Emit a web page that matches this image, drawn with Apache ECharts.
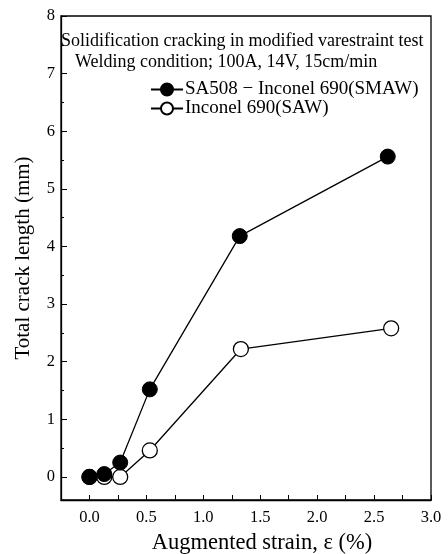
<!DOCTYPE html>
<html>
<head>
<meta charset="utf-8">
<script src="https://cdn.jsdelivr.net/npm/echarts@6/dist/echarts.min.js"></script>
<style>
  html, body { margin: 0; padding: 0; background: #fff; }
  #echarts { width: 448px; height: 554px; }
</style>
</head>
<body>
<div id="echarts"></div>
<script>
// 读图得到的数据
var smawStrain = [0.0, 0.13, 0.27, 0.53, 1.32, 2.62];
var smawCrack  = [0.0, 0.05, 0.25, 1.52, 4.18, 5.56];
var sawStrain  = [0.0, 0.13, 0.27, 0.53, 1.33, 2.65];
var sawCrack   = [0.0, 0.0, 0.0, 0.46, 2.22, 2.58];
var yTicks = [0, 1, 2, 3, 4, 5, 6, 7, 8];
var yMinorTicks = [0.5, 1.5, 2.5, 3.5, 4.5, 5.5, 6.5, 7.5];

var pairs = function (xs, ys) {
    return xs.map(function (x, i) { return [x, ys[i]]; });
};

var serif = 'Liberation Serif';
var myChart = echarts.init(document.getElementById('echarts'));
var option = {
    animation: false,
    title: [
        { text: 'Solidification cracking in modified varestraint test', left: 61, top: 32, padding: 0,
          textStyle: { fontFamily: serif, fontSize: 18, fontWeight: 'normal', color: '#000' } },
        { text: 'Welding condition; 100A, 14V, 15cm/min', left: 75, top: 53, padding: 0,
          textStyle: { fontFamily: serif, fontSize: 18, fontWeight: 'normal', color: '#000' } }
    ],
    legend: {
        orient: 'vertical',
        left: 150,
        top: 80,
        padding: 0,
        itemWidth: 32,
        itemHeight: 15,
        itemGap: 0,
        data: ['SA508 \u2212 Inconel 690(SMAW)', 'Inconel 690(SAW)'],
        textStyle: { fontFamily: serif, fontSize: 19, lineHeight: 19, color: '#000', padding: [0, 0, 0, -3] }
    },
    grid: { left: 61, right: 17, top: 16, bottom: 54, outerBoundsMode: 'none',
            show: true, borderColor: '#000', borderWidth: 1.3 },
    xAxis: {
        type: 'value',
        min: -0.25,
        max: 3.0,
        interval: 0.25,
        name: 'Augmented strain, \u03b5 (%)',
        nameLocation: 'middle',
        nameGap: 32,
        nameTextStyle: { fontFamily: serif, fontSize: 22.5, color: '#000', padding: [0, 0, 0, 32] },
        axisLine: { onZero: false, lineStyle: { color: '#000', width: 1.3 } },
        axisTick: { inside: true, length: 5, lineStyle: { color: '#000' } },
        axisLabel: {
            margin: 9, fontFamily: serif, fontSize: 16.5, color: '#000',
            formatter: function (v) {
                var r = Math.round(v * 100) / 100;
                if (r < 0 || Math.abs(r * 2 - Math.round(r * 2)) > 1e-6) return '';
                return r.toFixed(1);
            }
        },
        splitLine: { show: false }
    },
    yAxis: [{
        type: 'value',
        min: -0.4,
        max: 8,
        name: 'Total crack length (mm)',
        nameLocation: 'middle',
        nameGap: 27,
        nameTextStyle: { fontFamily: serif, fontSize: 21, color: '#000' },
        axisLine: { onZero: false, lineStyle: { color: '#000', width: 1.3 } },
        axisTick: { inside: true, length: 6, customValues: yTicks, lineStyle: { color: '#000' } },
        axisLabel: { margin: 6, fontFamily: serif, fontSize: 16.5, color: '#000', customValues: yTicks },
        splitLine: { show: false }
    }, {
        type: 'value',
        min: -0.4,
        max: 8,
        position: 'left',
        axisLine: { show: false, onZero: false },
        axisTick: { inside: true, length: 3, customValues: yMinorTicks, lineStyle: { color: '#000' } },
        axisLabel: { show: false },
        splitLine: { show: false }
    }],
    series: [
        {
            name: 'Inconel 690(SAW)',
            type: 'line',
            data: pairs(sawStrain, sawCrack),
            symbol: 'circle',
            symbolSize: 15,
            lineStyle: { color: '#000', width: 1.3 },
            itemStyle: { color: '#fff', borderColor: '#000', borderWidth: 1.3 },
            z: 2
        },
        {
            name: 'SA508 \u2212 Inconel 690(SMAW)',
            type: 'line',
            data: pairs(smawStrain, smawCrack),
            symbol: 'circle',
            symbolSize: 15,
            lineStyle: { color: '#000', width: 1.3 },
            itemStyle: { color: '#000', borderColor: '#000', borderWidth: 1 },
            z: 3
        }
    ]
};
myChart.setOption(option);
</script>
</body>
</html>
